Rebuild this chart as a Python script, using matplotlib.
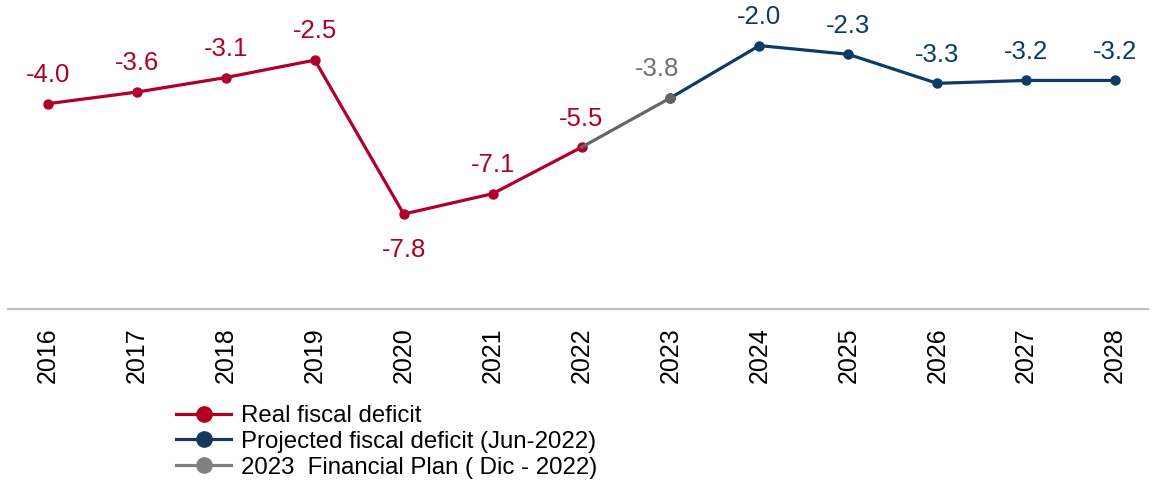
import matplotlib.pyplot as plt

plt.rcParams['font.family'] = ['Liberation Sans', 'DejaVu Sans']

# Data
years = ['2016', '2017', '2018', '2019', '2020', '2021', '2022',
         '2023', '2024', '2025', '2026', '2027', '2028']
real_years = years[:7]
real_values = [-4.0, -3.6, -3.1, -2.5, -7.8, -7.1, -5.5]
plan_years = ['2022', '2023']
plan_values = [-5.5, -3.8]
proj_years = years[7:]
proj_values = [-3.8, -2.0, -2.3, -3.3, -3.2, -3.2]

red = '#B0002A'
blue = '#0B3C68'
gray = '#666666'

fig = plt.figure(figsize=(11.55, 4.92), dpi=100)
ax = fig.add_axes([8 / 1155, 1 - 309 / 492, 1140 / 1155, 309 / 492])

xpos = {y: i for i, y in enumerate(years)}

ax.plot([xpos[y] for y in proj_years], proj_values, color=blue, lw=2.3,
        marker='o', ms=6.5, zorder=2)
ax.plot([xpos[y] for y in real_years], real_values, color=red, lw=2.3,
        marker='o', ms=6.5, zorder=3)
ax.plot([xpos[y] for y in plan_years], plan_values, color=gray, lw=2.3,
        zorder=4)
ax.plot([xpos['2023']], [-3.8], color=gray, marker='o', ms=6.5, zorder=5)

# value labels
fs = 18.5
for y, v in zip(real_years, real_values):
    off = -17 if y == '2020' else 12
    va = 'top' if y == '2020' else 'bottom'
    ax.annotate(f'{v:.1f}', (xpos[y], v), xytext=(0, off), textcoords='offset points',
                ha='center', va=va, color=red, fontsize=fs)
ax.annotate('-3.8', (xpos['2023'], -3.8), xytext=(-10, 12), textcoords='offset points',
            ha='center', va='bottom', color='#707070', fontsize=fs)
for y, v in zip(proj_years[1:], proj_values[1:]):
    ax.annotate(f'{v:.1f}', (xpos[y], v), xytext=(0, 12), textcoords='offset points',
                ha='center', va='bottom', color=blue, fontsize=fs)

ax.set_xlim(-0.45, 12.37)
ax.set_ylim(-11.07, -0.43)
ax.set_xticks(range(len(years)))
ax.set_xticklabels(years, rotation=90, fontsize=18)
ax.tick_params(axis='x', length=0, pad=13)
ax.set_yticks([])
for s in ['top', 'right', 'left']:
    ax.spines[s].set_visible(False)
ax.spines['bottom'].set_color('#C0C0C0')
ax.spines['bottom'].set_linewidth(1.6)

# legend
h1, = plt.plot([], [], color='#B00020', lw=2.3, marker='o', ms=11)
h2, = plt.plot([], [], color='#17375E', lw=2.3, marker='o', ms=11)
h3, = plt.plot([], [], color='#808080', lw=2.3, marker='o', ms=11)
fig.legend([h1, h2, h3],
           ['Real fiscal deficit', 'Projected fiscal deficit (Jun-2022)',
            '2023  Financial Plan ( Dic - 2022)'],
           loc='upper left', bbox_to_anchor=(176 / 1155, 1 - 405 / 492),
           frameon=False, fontsize=17.3, handlelength=2.3, handletextpad=0.4,
           borderpad=0, borderaxespad=0, labelspacing=0.16)

fig.savefig('out.png', dpi=100)
